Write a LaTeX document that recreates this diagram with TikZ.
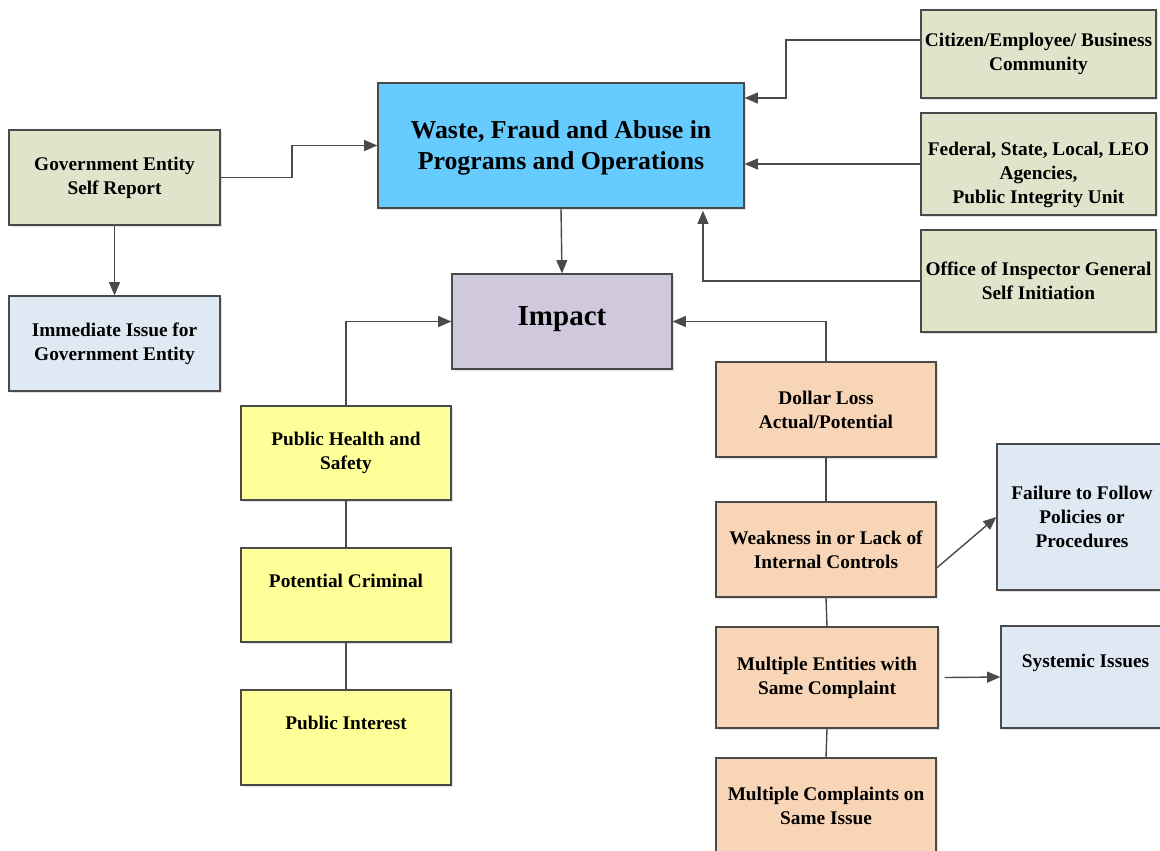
\documentclass[tikz,border=0pt]{standalone}
\usepackage{fontspec}
\setmainfont{Liberation Serif}
\usetikzlibrary{arrows.meta,shadows}

\definecolor{wasteblue}{HTML}{66CCFF}
\definecolor{impactlilac}{HTML}{D0C9DE}
\definecolor{sourcegreen}{HTML}{E0E4CB}
\definecolor{issueblue}{HTML}{DFE9F3}
\definecolor{areayellow}{HTML}{FFFF99}
\definecolor{losspeach}{HTML}{F8D5B6}
\definecolor{edgegray}{HTML}{4A4A4A}

\newcommand{\shiftlines}[2]{\raisebox{#1}[\height][\depth]{\begin{tabular}{@{}c@{}}#2\end{tabular}}}

\tikzset{
  box/.style={rectangle, draw=edgegray, line width=0.75pt, align=center,
    font=\bfseries\fontsize{11}{13.6}\selectfont, inner sep=2pt,
    drop shadow={shadow xshift=1.2pt, shadow yshift=-1.2pt, fill=black, opacity=0.12}},
  arr/.style={draw=edgegray, line width=0.8pt, -{Triangle[length=7.5pt,width=6.2pt]}},
  link/.style={draw=edgegray, line width=0.8pt}
}

\begin{document}
\begin{tikzpicture}[x=0.02cm, y=-0.02cm]

        \useasboundingbox (0,0) rectangle (1160,850);

        \begin{scope}[every node/.style={box}]
          \node[fill=wasteblue, minimum width=7.32cm, minimum height=2.5cm,
            font=\bfseries\fontsize{14.7}{17.6}\selectfont] (waste) at (561,145.5)
            {\shiftlines{-1.2pt}{Waste, Fraud and Abuse in\\Programs and Operations}};
          \node[fill=impactlilac, minimum width=4.4cm, minimum height=1.9cm,
            font=\bfseries\fontsize{16.5}{20}\selectfont] (impact) at (562,321.5)
            {\shiftlines{1.7pt}{Impact}};

          \node[fill=sourcegreen, minimum width=4.22cm, minimum height=1.9cm] (gov) at (114.5,177.5)
            {Government Entity\\Self Report};
          \node[fill=issueblue, minimum width=4.22cm, minimum height=1.9cm] (immed) at (114.5,343.5)
            {Immediate Issue for\\Government Entity};

          \node[fill=sourcegreen, minimum width=4.7cm, minimum height=1.76cm] (citizen) at (1038.5,54)
            {Citizen/Employee/ Business\\Community};
          \node[fill=sourcegreen, minimum width=4.7cm, minimum height=2.04cm] (federal) at (1038.5,164)
            {\shiftlines{-6.3pt}{Federal, State, Local, LEO\\Agencies,\\Public Integrity Unit}};
          \node[fill=sourcegreen, minimum width=4.7cm, minimum height=2.04cm] (oig) at (1038.5,281)
            {Office of Inspector General\\Self Initiation};

          \node[fill=areayellow, minimum width=4.2cm, minimum height=1.88cm] (health) at (346,453)
            {Public Health and\\Safety};
          \node[fill=areayellow, minimum width=4.2cm, minimum height=1.88cm] (criminal) at (346,595)
            {\shiftlines{6.8pt}{Potential Criminal}};
          \node[fill=areayellow, minimum width=4.2cm, minimum height=1.9cm] (interest) at (346,737.5)
            {\shiftlines{7pt}{Public Interest}};

          \node[fill=losspeach, minimum width=4.4cm, minimum height=1.9cm] (dollar) at (826,409.5)
            {Dollar Loss\\Actual/Potential};
          \node[fill=losspeach, minimum width=4.4cm, minimum height=1.9cm] (weakness) at (826,549.5)
            {Weakness in or Lack of\\Internal Controls};
          \node[fill=losspeach, minimum width=4.44cm, minimum height=2.02cm] (entities) at (827,677.5)
            {Multiple Entities with\\Same Complaint};
          \node[fill=losspeach, minimum width=4.4cm, minimum height=1.9cm] (complaints) at (826,805.5)
            {Multiple Complaints on\\Same Issue};

          \node[fill=issueblue, minimum width=3.4cm, minimum height=2.92cm] (failure) at (1082,517)
            {Failure to Follow\\Policies or\\Procedures};
          \node[fill=issueblue, minimum width=3.38cm, minimum height=2.04cm] (systemic) at (1085.5,677)
            {\shiftlines{7.9pt}{Systemic Issues}};
        \end{scope}

        % sources into the programs box
        \draw[arr] (gov.east) -- (292,177.5) |- (waste.west);
        \draw[arr] (gov.south) -- (immed.north);
        \draw[arr] (citizen.west |- 0,40) -- (786,40) |- (waste.east |- 0,98);
        \draw[arr] (federal.west) -- (waste.east |- federal.west);
        \draw[arr] (oig.west) -| ([xshift=2.84cm, yshift=-0.04cm]waste.south);
        \draw[arr] (waste.south) -- (impact.north);

        % impact areas
        \draw[arr] (health.north) |- (impact.west);
        \draw[arr] (dollar.north) |- (impact.east);
        \draw[link] (health.south) -- (criminal.north);
        \draw[link] (criminal.south) -- (interest.north);
        \draw[link] (dollar.south) -- (weakness.north);
        \draw[link] (weakness.south) -- (entities.north);
        \draw[link] (entities.south) -- (complaints.north);

        % issues
        \draw[arr] ([yshift=-0.37cm]weakness.east) -- (failure.west);
        \draw[arr] ([xshift=0.12cm]entities.east) -- (systemic.west);

      \end{tikzpicture}
\end{document}
